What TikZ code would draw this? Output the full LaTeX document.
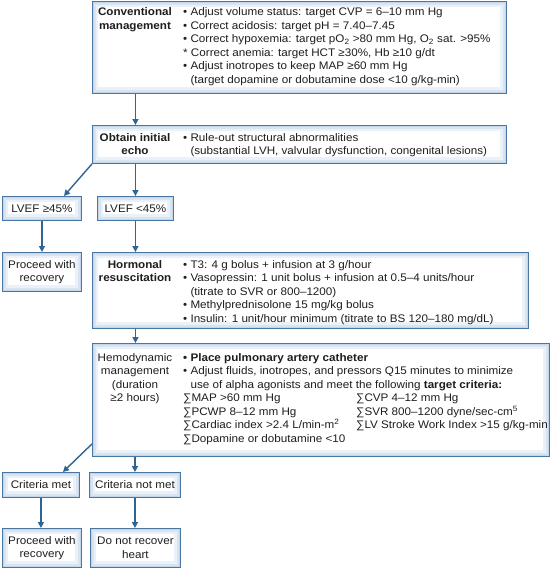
\documentclass[tikz,border=0pt]{standalone}
\usepackage{fontspec}
\setmainfont{Liberation Sans}[FakeStretch=1.06]
\usetikzlibrary{arrows.meta,calc}

\definecolor{boxline}{RGB}{74,118,163}
\definecolor{arrowc}{RGB}{48,100,146}
\definecolor{glowc}{RGB}{196,214,234}
\definecolor{inkc}{RGB}{30,30,30}

\newcommand{\boxfont}{\fontsize{11}{13.5}\selectfont}
\newcommand{\hang}{\hphantom{\textbullet\ }}

\tikzset{
  box/.style={draw=boxline, line width=0.9pt, fill=white, inner sep=0pt,
    anchor=north west, align=center, font=\boxfont,
    path picture={
      \draw[glowc!35!white, line width=12pt] (path picture bounding box.south west) rectangle (path picture bounding box.north east);
      \draw[glowc!65!white, line width=7pt] (path picture bounding box.south west) rectangle (path picture bounding box.north east);
      \draw[glowc, line width=3pt] (path picture bounding box.south west) rectangle (path picture bounding box.north east);
    }},
  lbl/.style={inner sep=0pt, anchor=north, align=center, font=\boxfont\bfseries},
  txt/.style={inner sep=0pt, anchor=north west, align=left, font=\boxfont},
  arr/.style={draw=arrowc, line width=1.4pt, -{Triangle[length=6pt,width=6pt]}},
}

\begin{document}
\begin{tikzpicture}[x=1pt, y=-1pt, text=inkc]
  \useasboundingbox (0,0) rectangle (550,568);

  % boxes
  \node[box, minimum width=414pt, minimum height=92pt] (conv) at (92,1) {};
  \node[box, minimum width=414pt, minimum height=38pt] (echo) at (92,125) {};
  \node[box, minimum width=79pt, minimum height=24pt] (hi) at (2,196) {LVEF ≥45\%};
  \node[box, minimum width=76pt, minimum height=24pt] (lo) at (97,196) {LVEF <45\%};
  \node[box, minimum width=79pt, minimum height=39pt] (recA) at (2,252) {Proceed with\\recovery};
  \node[box, minimum width=436pt, minimum height=76pt] (horm) at (92,252) {};
  \node[box, minimum width=457pt, minimum height=113pt] (hemo) at (92,343) {};
  \node[box, minimum width=77pt, minimum height=25pt] (met) at (2,472) {Criteria met};
  \node[box, minimum width=91pt, minimum height=25pt] (notmet) at (89,472) {Criteria not met};
  \node[box, minimum width=79pt, minimum height=39pt] (recB) at (2,528) {Proceed with\\recovery};
  \node[box, minimum width=90pt, minimum height=39pt] (norec) at (90,528) {Do not recover\\heart};

  % box texts
  \node[lbl] (convL) at (135,6) {\strut Conventional\\management};
  \node[txt] (convB) at (183,6) {\strut\textbullet\ Adjust volume status: target CVP = 6–10 mm Hg\\
    \textbullet\ Correct acidosis: target pH = 7.40–7.45\\
    \textbullet\ Correct hypoxemia: target pO\textsubscript{2} >80 mm Hg, O\textsubscript{2} sat. >95\%\\
    * Correct anemia: target HCT ≥30\%, Hb ≥10 g/dt\\
    \textbullet\ Adjust inotropes to keep MAP ≥60 mm Hg\\
    \hang(target dopamine or dobutamine dose <10 g/kg-min)};

  \node[lbl] (echoL) at (135,131.5) {\strut Obtain initial\\echo};
  \node[txt] (echoB) at (183,131.5) {\strut\textbullet\ Rule-out structural abnormalities\\
    \hang(substantial LVH, valvular dysfunction, congenital lesions)};

  \node[lbl] (hormL) at (135,258.5) {\strut Hormonal\\resuscitation};
  \node[txt] (hormB) at (183,258.5) {\strut\textbullet\ T3: 4 g bolus + infusion at 3 g/hour\\
    \textbullet\ Vasopressin: 1 unit bolus + infusion at 0.5–4 units/hour\\
    \hang(titrate to SVR or 800–1200)\\
    \textbullet\ Methylprednisolone 15 mg/kg bolus\\
    \textbullet\ Insulin: 1 unit/hour minimum (titrate to BS 120–180 mg/dL)};

  \node[lbl, font=\boxfont] (hemoL) at (135,351.5) {\strut Hemodynamic\\management\\(duration\\≥2 hours)};
  \node[txt] (hemoB) at (183,351.5) {\strut\textbf{\textbullet\ Place pulmonary artery catheter}\\
    \textbullet\ Adjust fluids, inotropes, and pressors Q15 minutes to minimize\\
    \hang use of alpha agonists and meet the following \textbf{target criteria:}\\
    ∑MAP >60 mm Hg\\
    ∑PCWP 8–12 mm Hg\\
    ∑Cardiac index >2.4 L/min-m\textsuperscript{2}\\
    ∑Dopamine or dobutamine <10};
  \node[txt] (hemoR) at (356,392) {\strut ∑CVP 4–12 mm Hg\\
    ∑SVR 800–1200 dyne/sec-cm\textsuperscript{5}\\
    ∑LV Stroke Work Index >15 g/kg-min};

  % connectors
  \draw[arr] (conv.south -| lo.north) -- (echo.north -| lo.north);
  \draw[arr] (echo.south west) -- ([xshift=22pt]hi.north);
  \draw[arr] (echo.south -| lo.north) -- (lo.north);
  \draw[arr] (hi.south) -- (recA.north);
  \draw[arr] (lo.south) -- (lo.south |- horm.north);
  \draw[arr] (horm.south -| lo.south) -- (hemo.north -| lo.south);
  \draw[arr] ([yshift=13pt]hemo.south west) -- ([xshift=22pt]met.north);
  \draw[arr] (hemo.south -| notmet.north) -- (notmet.north);
  \draw[arr] (met.south) -- (met.south |- recB.north);
  \draw[arr] (notmet.south) -- (notmet.south |- norec.north);
\end{tikzpicture}
\end{document}
